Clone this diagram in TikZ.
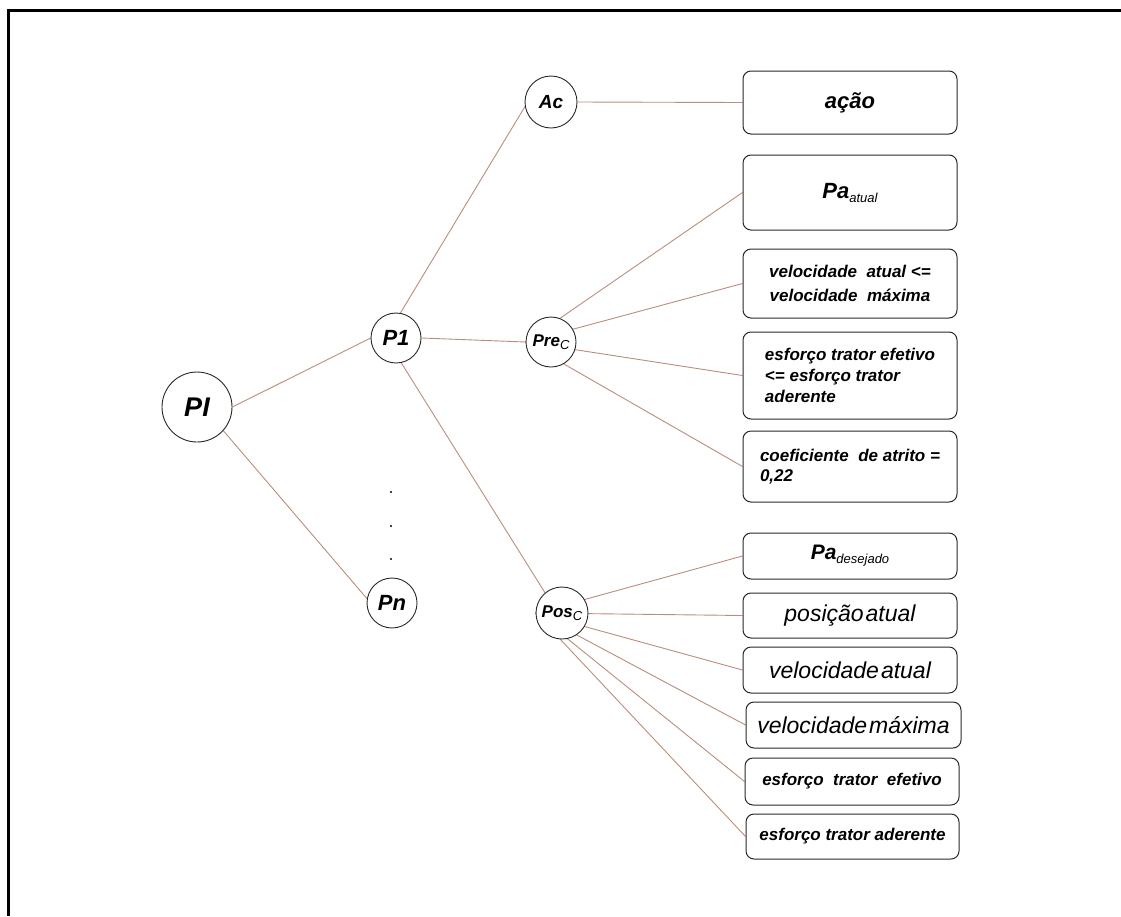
\documentclass[tikz,border=0pt]{standalone}
\usepackage{fontspec}
\setmainfont{Liberation Sans}
\usetikzlibrary{backgrounds}
\definecolor{linkbrown}{RGB}{184,142,124}
\definecolor{edgegray}{RGB}{40,40,40}
\newcommand{\fsz}[2]{\fontsize{#1}{#2}\selectfont}
\newcommand{\lowsub}[3][12]{\raisebox{-#2}{\fsz{#1}{#1}\mdseries\itshape #3}}
\tikzset{
  state/.style={circle, draw=edgegray, line width=0.9pt, fill=white,
    inner sep=0pt, minimum size=50pt, font=\bfseries\itshape\fsz{22}{24}},
  leaf/.style={rectangle, rounded corners=8pt, draw=edgegray, line width=1pt,
    fill=white, inner sep=0pt, minimum width=214pt,
    font=\bfseries\itshape\fsz{17}{21}},
  plain/.style={font=\mdseries\itshape\fsz{23}{26}},
  link/.style={draw=linkbrown, line width=0.9pt},
  frameline/.style={draw=black, line width=3pt}
}
\begin{document}
\begin{tikzpicture}[x=1pt,y=-1pt]
  \useasboundingbox (0,0) rectangle (1121,916);
  % partial frame along the top and left edges
  \coordinate (fTL) at (8,10);
  \coordinate (fTR) at (1121,10);
  \coordinate (fBL) at (8,916);
  \draw[frameline] (fTR) -- (fTL) -- (fBL);

  % plan nodes
  \node[state, minimum size=70pt, font=\bfseries\itshape\fsz{27}{28}] (PI) at (197,407) {PI};
  \node[state] (P1) at (396,338) {P1};
  \node[state] (Pn) at (392,603) {Pn};
  \node[state, minimum size=52pt, font=\bfseries\itshape\fsz{19}{20}] (Ac) at (551,102) {Ac};
  \node[state, font=\bfseries\itshape\fsz{17}{18}] (Prec) at (551,342) {Pre\lowsub[13]{3pt}{C}};
  \node[state, minimum size=52pt, font=\bfseries\itshape\fsz{17}{18}] (Posc) at (562,613) {Pos\lowsub[13]{3pt}{C}};

  % ellipsis between P1 and Pn
  \foreach \y/\n in {492/d1,526/d2,559/d3}
    \fill (391,\y) circle (1.2pt) coordinate (\n);

  % action
  \node[leaf, minimum height=63pt, font=\bfseries\itshape\fsz{22}{24}] (b1) at (850,102.5) {ação};

  % preconditions
  \node[leaf, minimum height=75pt, font=\bfseries\itshape\fsz{22}{24}] (b2) at (850,192.5) {Pa\lowsub[13]{4pt}{atual}};
  \node[leaf, minimum height=69pt, align=center, font=\bfseries\itshape\fsz{17}{24}] (b3) at (850,283.5)
    {velocidade\ \ atual <=\\velocidade\ \ máxima};
  \node[leaf, minimum height=87pt, align=left] (b4) at (850,375.5)
    {esforço trator efetivo\\<= esforço trator\\aderente};
  \node[leaf, minimum height=71pt, align=left, font=\bfseries\itshape\fsz{17}{20}] (b5) at (850,466.5)
    {coeficiente\ \ de atrito =\\0,22};

  % postconditions
  \node[leaf, minimum height=46pt, font=\bfseries\itshape\fsz{21}{24}] (b6) at (850,556) {Pa\lowsub[13]{4pt}{desejado}};
  \node[leaf, minimum height=45pt, plain] (b7) at (850,615.5) {posição\hspace{2pt}atual};
  \node[leaf, minimum height=46pt, plain] (b8) at (850,670) {velocidade\hspace{2pt}atual};
  \node[leaf, minimum height=46pt, minimum width=215pt, plain] (b9) at (853.5,725) {velocidade\hspace{2pt}máxima};
  \node[leaf, minimum height=47pt] (b10) at (852,781.5) {esforço\ \ trator\ \ efetivo};
  \node[leaf, minimum height=45pt, minimum width=213pt] (b11) at (852.5,836.5) {esforço trator aderente};

  % connectors, kept behind the filled nodes
  \begin{scope}[on background layer]
    \draw[link] (PI.east) -- (P1.west);
    \draw[link] (PI.-42) -- (Pn.170);
    \draw[link] (P1.80) -- (Ac.190);
    \draw[link] (P1.east) -- (Prec.west);
    \draw[link] (P1.-78) -- (Posc.130);
    \draw[link] (Ac.east) -- (b1.west);
    \foreach \b in {b2,b3,b4,b5}
      \draw[link] (Prec.west) -- (\b.west);
    \foreach \b in {b6,b7,b8,b9,b10,b11}
      \draw[link] (Posc.west) -- (\b.west);
  \end{scope}
\end{tikzpicture}
\end{document}
